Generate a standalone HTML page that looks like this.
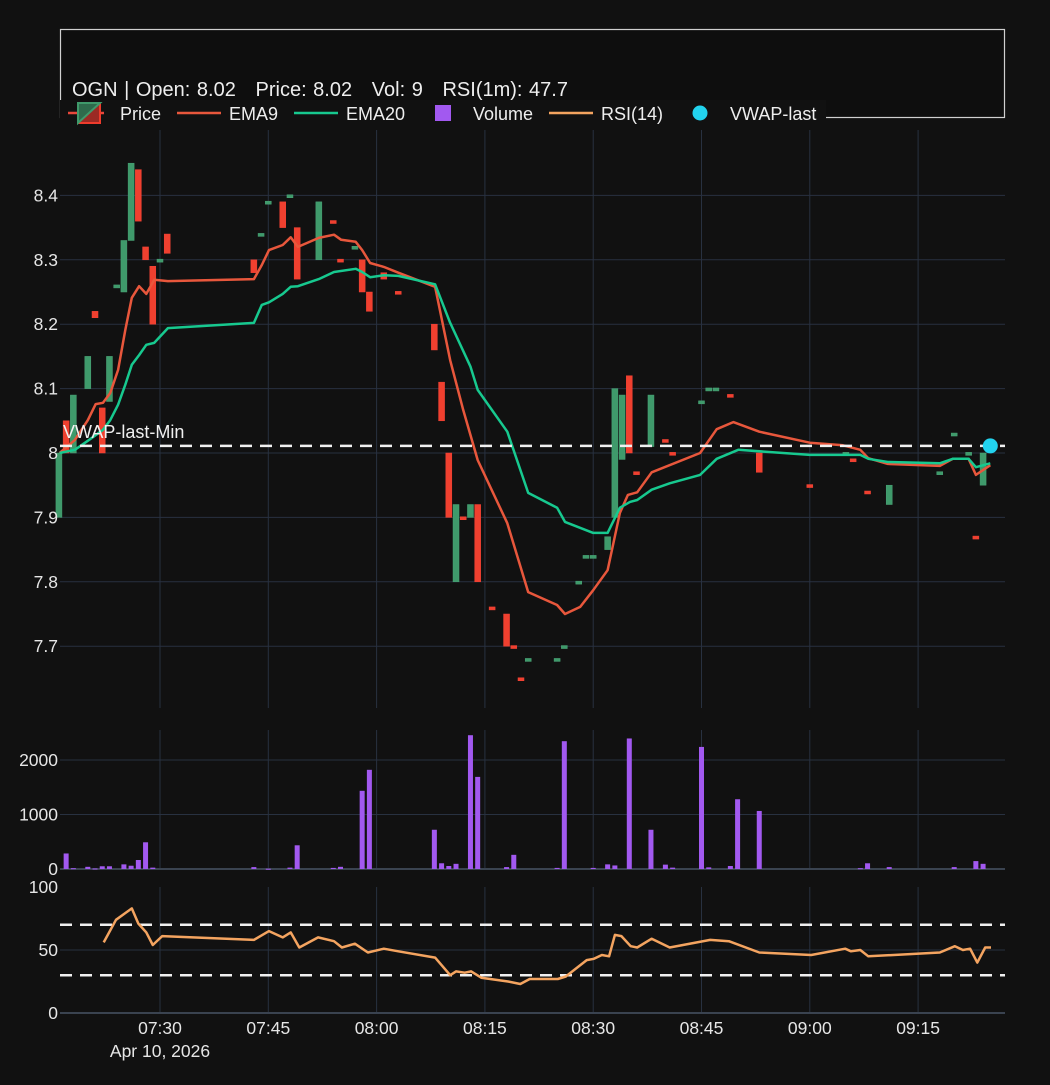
<!DOCTYPE html>
<html>
<head>
<meta charset="utf-8">
<style>
  html,body{margin:0;padding:0;background:#111111;}
  body{width:1050px;height:1080px;overflow:hidden;font-family:"Liberation Sans",sans-serif;}
  svg text{font-family:"Liberation Sans",sans-serif;}
</style>
</head>
<body>
<svg id="chart" width="1050" height="1080" xmlns="http://www.w3.org/2000/svg">
  <rect x="0" y="0" width="1050" height="1080" fill="#111111"/>
  <g id="grid"></g>
  <g id="marks"></g>
  <g id="axes"></g>
  <g id="header">
    <rect x="60.5" y="29.5" width="944" height="88" fill="#0e0e0e" stroke="#d0d0d0" stroke-width="1.2"/>
    <text x="72" y="96" font-size="20" word-spacing="1" fill="#eeeeee" xml:space="preserve">OGN | Open: 8.02   Price: 8.02   Vol: 9   RSI(1m): 47.7</text>
    <rect x="60" y="100" width="766" height="28" fill="#111111"/>
    <g>
      <line x1="68" y1="113" x2="104" y2="113" stroke="#e8473a" stroke-width="2.5"/>
      <rect x="78" y="103" width="22" height="20" fill="#9b2a24" stroke="#ef3b2c" stroke-width="2"/>
      <polygon points="78,103 100,103 78,123" fill="#2e6b4c" stroke="#3f9a6b" stroke-width="2"/>
      <text x="120" y="120" font-size="18" fill="#eeeeee">Price</text>
    </g>
    <g>
      <line x1="177" y1="113" x2="221" y2="113" stroke="#e8573c" stroke-width="2.5"/>
      <text x="229" y="120" font-size="18" fill="#eeeeee">EMA9</text>
    </g>
    <g>
      <line x1="294" y1="113" x2="338" y2="113" stroke="#17c98f" stroke-width="2.5"/>
      <text x="346" y="120" font-size="18" fill="#eeeeee">EMA20</text>
    </g>
    <g>
      <rect x="435" y="105" width="16" height="16" fill="#a259f0"/>
      <text x="473" y="120" font-size="18" fill="#eeeeee">Volume</text>
    </g>
    <g>
      <line x1="549" y1="113" x2="593" y2="113" stroke="#f4a460" stroke-width="2.5"/>
      <text x="601" y="120" font-size="18" fill="#eeeeee">RSI(14)</text>
    </g>
    <g>
      <circle cx="700" cy="113" r="7.5" fill="#22d3ee"/>
      <text x="730" y="120" font-size="18" fill="#eeeeee">VWAP-last</text>
    </g>
  </g>
</svg>
<script>
// ---- data (minutes after 07:00) ----
const candleTimes = [16,17,18,20,21,22,23,24,25,26,27,28,29,30,31,43,44,45,47,48,49,52,54,55,57,58,59,61,63,68,69,70,71,72,73,74,76,78,79,80,81,85,86,88,89,90,92,93,94,95,96,98,100,101,105,106,107,109,113,120,125,126,128,131,138,140,142,143,144];
const candleOpen  = [7.90,8.05,8.00,8.10,8.22,8.07,8.08,8.26,8.25,8.33,8.44,8.32,8.29,8.30,8.34,8.30,8.34,8.39,8.39,8.40,8.35,8.30,8.361,8.301,8.32,8.30,8.25,8.28,8.251,8.20,8.11,8.00,7.80,7.901,7.90,7.92,7.761,7.75,7.701,7.651,7.68,7.68,7.70,7.80,7.84,7.84,7.85,7.90,7.99,8.12,7.971,8.01,8.021,8.001,8.08,8.10,8.10,8.091,8.00,7.951,8.00,7.991,7.941,7.92,7.97,8.03,8.00,7.871,7.95];
const candleClose = [8.00,8.00,8.09,8.15,8.21,8.00,8.15,8.261,8.33,8.45,8.36,8.30,8.20,8.301,8.31,8.28,8.341,8.391,8.35,8.401,8.27,8.39,8.36,8.30,8.321,8.25,8.22,8.27,8.25,8.16,8.05,7.90,7.92,7.90,7.92,7.80,7.76,7.70,7.70,7.65,7.681,7.681,7.701,7.801,7.841,7.841,7.87,8.10,8.09,8.00,7.97,8.09,8.02,8.00,8.081,8.101,8.101,8.09,7.97,7.95,8.001,7.99,7.94,7.95,7.971,8.031,8.001,7.87,8.00];

const emaTimes = [16.1,18.2,20,21.1,22.1,23.1,24.2,25.2,26.1,27.1,28.1,29.2,31.1,43,44.1,45.1,47,48.1,49.1,52,54.1,55.1,57.1,58,59.1,61,63,68.1,70.2,72,74,78.1,81,85,86.1,88.2,90,92,93.7,94.8,96.1,98.1,104.8,107.1,109.4,113,120,124.6,127,128.1,130.8,138,139.8,142,143,145];
const ema9Values = [8.000,8.020,8.051,8.076,8.078,8.093,8.129,8.191,8.241,8.259,8.247,8.269,8.267,8.270,8.292,8.315,8.323,8.335,8.320,8.334,8.339,8.331,8.328,8.315,8.295,8.289,8.280,8.258,8.144,8.067,7.989,7.891,7.784,7.764,7.750,7.761,7.787,7.818,7.907,7.935,7.939,7.970,8.000,8.037,8.048,8.033,8.016,8.012,8.005,7.992,7.983,7.980,7.991,7.991,7.966,7.981];
const ema20Times = [16.1,18.2,20,22.1,23.1,24.2,25.2,26.1,27.1,28.1,29.2,31.1,43,44.1,45.1,47,48.1,49.1,52,54.1,57.1,58,59.1,61,63,68.1,70.2,73,74,78.1,81,85,86.1,90,92,93.7,95.1,96.1,98.1,100.6,104.8,107.1,110.1,120,127,128.1,130.8,138,139.8,142,143,145];
const ema20Values = [8.000,8.005,8.019,8.036,8.051,8.075,8.106,8.137,8.152,8.168,8.171,8.194,8.202,8.230,8.234,8.247,8.258,8.259,8.270,8.281,8.286,8.281,8.273,8.276,8.275,8.262,8.202,8.134,8.098,8.033,7.938,7.915,7.893,7.876,7.876,7.915,7.924,7.927,7.943,7.953,7.966,7.991,8.005,7.997,7.997,7.991,7.986,7.984,7.991,7.991,7.978,7.984];

const vwapLevel = 8.011;
const vwapLastTime = 145;

const volTimes  = [17,18,20,21,22,23,25,26,27,28,29,43,45,48,49,54,55,58,59,68,69,70,71,73,74,78,79,85,86,90,92,93,95,98,100,101,105,106,109,110,113,127,128,131,140,143,144];
const volValues = [285,15,40,10,50,50,85,60,165,490,25,35,5,25,435,20,40,1435,1820,720,105,55,95,2455,1690,35,260,20,2345,20,85,65,2395,720,80,25,2240,30,55,1280,1065,15,105,35,35,145,95];

const rsiTimes  = [22.2,23.9,26.1,27,28.1,29,30.3,43,45.1,47,48.1,49.3,51.9,54.1,55.2,57,58.8,61,63,68.1,70.2,71,72.2,73.1,74.5,78.2,79.9,81.2,85.1,86.2,89.1,90.1,91.2,92.2,93,93.9,95.2,96.1,98.1,100.6,106.2,108.8,113,120.2,124.9,125.7,127,128.1,138,140.1,141.2,142.2,143.2,144.3,145.1];
const rsiValues = [56,74,83,71,64,54,61,58,65,60,64,52,60,57,52,55,48,51,49,44,30,33,32,33,28,25,23,27,27,29,42,43,46,45,62,61,53,52,59,52,58,57,48,46,51,49,50,45,48,53,50,51,40,52,52];
const rsiLevels = [70,30];

const priceTicks = [7.7,7.8,7.9,8,8.1,8.2,8.3,8.4];
const priceTickLabels = ["7.7","7.8","7.9","8","8.1","8.2","8.3","8.4"];
const volTicks = [0,1000,2000];
const rsiTicks = [0,50,100];
const timeTicks = [30,45,60,75,90,105,120,135];
const timeTickLabels = ["07:30","07:45","08:00","08:15","08:30","08:45","09:00","09:15"];

// ---- scales ----
const X0=60, X1=1005;
function xS(t){ return 160 + (t-30)*7.22; }
function yP(p){ return 453 - (p-8)*644; }
function yV(v){ return 869 - v*0.0545; }
function yR(r){ return 1013 - r*1.26; }
const P_TOP=130, P_BOT=708, V_TOP=730, V_BOT=869, R_TOP=887, R_BOT=1013;
const FS=17.5;

const NS="http://www.w3.org/2000/svg";
function mk(tag, attrs, parent){
  const e=document.createElementNS(NS,tag);
  for(const k in attrs) e.setAttribute(k,attrs[k]);
  parent.appendChild(e); return e;
}
const grid=document.getElementById('grid');
const marks=document.getElementById('marks');
const axes=document.getElementById('axes');
const GC="#283140";

timeTicks.forEach(t=>{
  [[P_TOP,P_BOT],[V_TOP,V_BOT],[R_TOP,R_BOT]].forEach(r=>{
    const l=mk('line',{x1:xS(t),x2:xS(t),y1:r[0],y2:r[1],stroke:GC,'stroke-width':1},grid);
    
    
  });
});
priceTicks.forEach((p,i)=>{
  const l=mk('line',{x1:X0,x2:X1,y1:yP(p),y2:yP(p),stroke:GC,'stroke-width':1},grid);
  
  
  const t=mk('text',{x:58,y:yP(p)+6,'text-anchor':'end','font-size':FS,fill:'#e6e6e6'},axes);
  t.textContent=priceTickLabels[i];
  
  
});
volTicks.forEach(v=>{
  const l=mk('line',{x1:X0,x2:X1,y1:yV(v),y2:yV(v),stroke:v===0?'#3a4350':GC,'stroke-width':v===0?2:1},grid);
  
  
  const t=mk('text',{x:58,y:yV(v)+6,'text-anchor':'end','font-size':FS,fill:'#e6e6e6'},axes);
  t.textContent=String(v);
  
  
});
rsiTicks.forEach(v=>{
  if(v!==100){
    const l=mk('line',{x1:X0,x2:X1,y1:yR(v),y2:yR(v),stroke:v===0?'#3a4350':GC,'stroke-width':v===0?2:1},grid);
    
    
  }
  const t=mk('text',{x:58,y:yR(v)+6,'text-anchor':'end','font-size':FS,fill:'#e6e6e6'},axes);
  t.textContent=String(v);
  
  
});
timeTicks.forEach((tt,i)=>{
  const t=mk('text',{x:xS(tt),y:1034,'text-anchor':'middle','font-size':FS,fill:'#e6e6e6'},axes);
  t.textContent=timeTickLabels[i];
  
  
});
const dl=mk('text',{x:xS(30),y:1057,'text-anchor':'middle','font-size':FS,fill:'#e6e6e6'},axes);
dl.textContent="Apr 10, 2026";



candleTimes.forEach((t,i)=>{
  const o=candleOpen[i], c=candleClose[i];
  const up=c>=o;
  const y1=yP(Math.max(o,c)), y2=yP(Math.min(o,c));
  let h=Math.max(y2-y1,3);
  const r=mk('rect',{x:xS(t)-3,y:y1,width:6,height:h,fill:up?'#3f9a6b':'#f0402f',stroke:up?'#4aa577':'#f44336','stroke-width':0.5},marks);
  
  
});

function linePath(ts,vs,yf){ return ts.map((t,i)=>(i?'L':'M')+xS(t).toFixed(1)+','+yf(vs[i]).toFixed(1)).join(' '); }
const e9=mk('path',{d:linePath(emaTimes,ema9Values,yP),fill:'none',stroke:'#e8573c','stroke-width':2.5,'stroke-linejoin':'round'},marks);


const e20=mk('path',{d:linePath(ema20Times,ema20Values,yP),fill:'none',stroke:'#17c98f','stroke-width':2.5,'stroke-linejoin':'round'},marks);



const vw=mk('line',{x1:X0,x2:X1,y1:yP(vwapLevel),y2:yP(vwapLevel),stroke:'#f0f0f0','stroke-width':2.5,'stroke-dasharray':'12,8'},marks);


const vt=mk('text',{x:63,y:yP(vwapLevel)-8,'font-size':18,fill:'#f0f0f0'},marks);
vt.textContent="VWAP-last-Min";


const vd=mk('circle',{cx:xS(vwapLastTime),cy:yP(vwapLevel),r:7.5,fill:'#22d3ee'},marks);



volTimes.forEach((t,i)=>{
  const y=yV(volValues[i]);
  const r=mk('rect',{x:xS(t)-2.5,y:y,width:5,height:Math.max(V_BOT-y,1),fill:'#a259f0'},marks);
  
  
});

rsiLevels.forEach(v=>{
  const l=mk('line',{x1:X0,x2:X1,y1:yR(v),y2:yR(v),stroke:'#f0f0f0','stroke-width':2.5,'stroke-dasharray':'12,8'},marks);
  
  
});
const rl=mk('path',{d:linePath(rsiTimes,rsiValues,yR),fill:'none',stroke:'#f4a460','stroke-width':2.5,'stroke-linejoin':'round'},marks);


</script>
</body>
</html>
